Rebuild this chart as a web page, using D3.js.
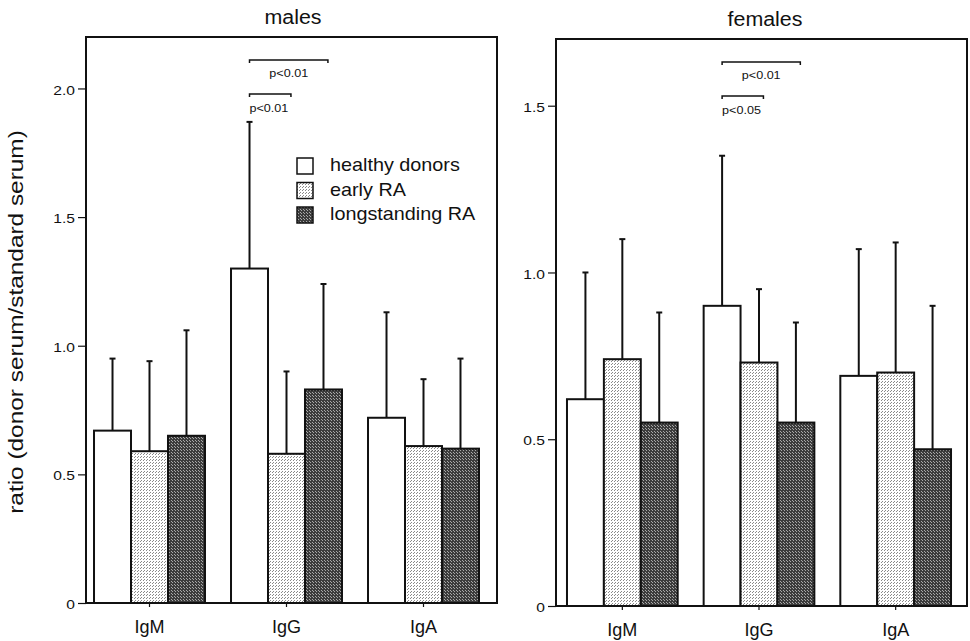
<!DOCTYPE html>
<html>
<head>
<meta charset="utf-8">
<script src="https://cdn.jsdelivr.net/npm/d3@7"></script>
<style>
  html, body { margin: 0; padding: 0; background: #fff; }
  svg { display: block; }
  text { font-family: "Liberation Sans", Arial, Helvetica, sans-serif; fill: #111; }
</style>
</head>
<body>
<svg id="chart" width="970" height="641"></svg>
<script>
// Immunoglobulin isotypes on the x axis, donor groups within each isotype
const isotypes = ["IgM", "IgG", "IgA"];
const groups = ["healthy donors", "early RA", "longstanding RA"];

// Mean ratio (donor serum / standard serum), one row per isotype, one value per group
const malesMean   = [[0.67, 0.59, 0.65], [1.30, 0.58, 0.83], [0.72, 0.61, 0.60]];
const malesSD     = [[0.28, 0.35, 0.41], [0.57, 0.32, 0.41], [0.41, 0.26, 0.35]];
const femalesMean = [[0.62, 0.74, 0.55], [0.90, 0.73, 0.55], [0.69, 0.70, 0.47]];
const femalesSD   = [[0.38, 0.36, 0.33], [0.45, 0.22, 0.30], [0.38, 0.39, 0.43]];

// Axis ticks
const malesTicks   = [0, 0.5, 1.0, 1.5, 2.0];
const femalesTicks = [0, 0.5, 1.0, 1.5];

// Significant differences (group indices within one isotype)
const malesSig   = [
  { iso: "IgG", from: 0, to: 2, label: "p<0.01", tier: 0 },
  { iso: "IgG", from: 0, to: 1, label: "p<0.01", tier: 1 }
];
const femalesSig = [
  { iso: "IgG", from: 0, to: 2, label: "p<0.01", tier: 0 },
  { iso: "IgG", from: 0, to: 1, label: "p<0.05", tier: 1 }
];

const svg = d3.select("#chart");
const defs = svg.append("defs");

// Stipple fills for the two patient groups
function stipple(id, bg, dot, dots) {
  const p = defs.append("pattern").attr("id", id)
    .attr("patternUnits", "userSpaceOnUse").attr("width", 3).attr("height", 3);
  p.append("rect").attr("width", 3).attr("height", 3).attr("fill", bg);
  dots.forEach(([x, y]) => p.append("rect").attr("x", x).attr("y", y)
    .attr("width", 1).attr("height", 1).attr("fill", dot));
}
stipple("dotsLight", "#ffffff", "#8a8a8a", [[0, 0], [2, 1]]);
stipple("dotsDark", "#3c3c3c", "#a8a8a8", [[1, 0], [0, 2]]);
const fills = ["#ffffff", "url(#dotsLight)", "url(#dotsDark)"];

// Text placed with a slight horizontal stretch, like the typeset figure
function label(g, x, y, str, size, sx, anchor, rot) {
  return g.append("text")
    .attr("transform", `translate(${x},${y})${rot ? ` rotate(${rot})` : ""} scale(${sx},1)`)
    .attr("text-anchor", anchor || "middle")
    .attr("font-size", size)
    .text(str);
}

function panel(cfg) {
  const { title, mean, sd, ticks, sig, left, right, top, bottom, ymax, bandRange, titleX, legend } = cfg;
  const g = svg.append("g");

  const y = d3.scaleLinear().domain([0, ymax]).range([bottom, top]);
  const x = d3.scaleBand().domain(isotypes).range(bandRange)
    .paddingInner(0.19).paddingOuter(0.095);
  const xs = d3.scaleBand().domain(d3.range(groups.length)).range([0, x.bandwidth()]);

  // y axis
  const yAxis = d3.axisLeft(y).tickValues(ticks).tickSize(8).tickSizeOuter(0)
    .tickFormat(d => d === 0 ? "0" : d3.format(".1f")(d));
  const ya = g.append("g").attr("transform", `translate(${left},0)`).call(yAxis);
  ya.select(".domain").remove();
  ya.selectAll(".tick line").attr("stroke", "#111").attr("stroke-width", 1.2);
  ya.selectAll(".tick text")
    .attr("x", null).attr("dy", "0.38em")
    .attr("transform", "translate(-11,1) scale(1.3,1)")
    .attr("font-size", 12).attr("font-family", null).attr("fill", "#111");

  // x axis
  const xAxis = d3.axisBottom(x).tickSize(4).tickSizeOuter(0);
  const xa = g.append("g").attr("transform", `translate(0,${bottom})`).call(xAxis);
  xa.select(".domain").remove();
  xa.selectAll(".tick line").attr("stroke", "#111").attr("stroke-width", 1.2);
  xa.selectAll(".tick text")
    .attr("y", 30).attr("dy", 0)
    .attr("font-size", 19).attr("font-family", null).attr("fill", "#111")
    .attr("transform", "scale(0.95,1)");

  // bars
  const rows = [];
  isotypes.forEach((iso, i) => groups.forEach((grp, j) => {
    rows.push({ iso, j, m: mean[i][j], s: sd[i][j] });
  }));
  const bars = g.append("g");
  bars.selectAll("rect").data(rows).join("rect")
    .attr("x", d => x(d.iso) + xs(d.j))
    .attr("y", d => y(d.m))
    .attr("width", xs.bandwidth())
    .attr("height", d => y(0) - y(d.m))
    .attr("fill", d => fills[d.j])
    .attr("stroke", "#111").attr("stroke-width", 2);

  // upper error bars (mean + SD)
  const err = g.append("g").attr("stroke", "#111").attr("stroke-width", 2);
  rows.forEach(d => {
    const cx = x(d.iso) + xs(d.j) + xs.bandwidth() / 2;
    err.append("line").attr("x1", cx).attr("x2", cx).attr("y1", y(d.m)).attr("y2", y(d.m + d.s));
    err.append("line").attr("x1", cx - 3).attr("x2", cx + 3).attr("y1", y(d.m + d.s)).attr("y2", y(d.m + d.s));
  });

  // significance brackets
  const tierY = [top + 23, top + 57];
  sig.forEach(s => {
    const x1 = x(s.iso) + xs(s.from) + xs.bandwidth() / 2;
    const x2 = x(s.iso) + xs(s.to) + xs.bandwidth() * 0.62;
    const by = tierY[s.tier];
    g.append("path")
      .attr("d", `M${x1},${by + 3}V${by}H${x2}V${by + 3}`)
      .attr("fill", "none").attr("stroke", "#111").attr("stroke-width", 1.5);
    if (s.tier === 0) label(g, (x1 + x2) / 2, by + 17, s.label, 10.5, 1.2, "middle");
    else label(g, x1, by + 18, s.label, 10.5, 1.2, "start");
  });

  // frame
  g.append("rect").attr("x", left).attr("y", top)
    .attr("width", right - left).attr("height", bottom - top)
    .attr("fill", "none").attr("stroke", "#111").attr("stroke-width", 2);

  // title
  label(g, titleX, top - 13, title, 20, 1.07, "middle");

  // legend
  if (legend) {
    const lg = g.append("g");
    groups.forEach((grp, j) => {
      const ly = legend.y + j * 24.5;
      lg.append("rect").attr("x", legend.x).attr("y", ly).attr("width", 16).attr("height", 16)
        .attr("fill", fills[j]).attr("stroke", "#111").attr("stroke-width", 1.5);
      label(lg, legend.x + 33, ly + 13, grp, 18, 1.1, "start");
    });
  }
}

panel({
  title: "males", mean: malesMean, sd: malesSD, ticks: malesTicks, sig: malesSig,
  left: 86, right: 497, top: 37, bottom: 603, ymax: 2.2,
  bandRange: [81, 492], titleX: 293, legend: { x: 297, y: 158 }
});
panel({
  title: "females", mean: femalesMean, sd: femalesSD, ticks: femalesTicks, sig: femalesSig,
  left: 556, right: 967, top: 39, bottom: 606, ymax: 1.7,
  bandRange: [554, 964], titleX: 765
});

// shared y-axis title
label(svg, 23, 322, "ratio (donor serum/standard serum)", 20, 1.22, "middle", -90);
</script>
</body>
</html>
